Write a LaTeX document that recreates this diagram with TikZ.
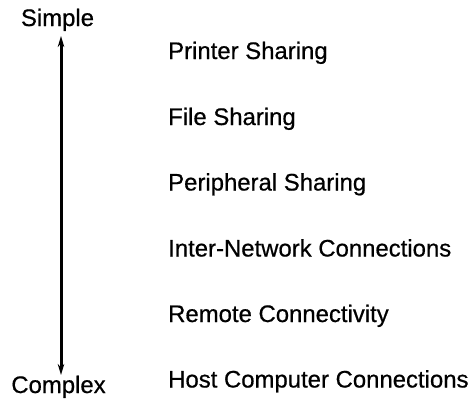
\documentclass[tikz,border=0pt]{standalone}
\usepackage{fontspec}
\setmainfont{Liberation Sans}[FakeBold=0.6]
\usetikzlibrary{arrows.meta}
\begin{document}
\begin{tikzpicture}[x=1bp, y=-1bp,
  lbl/.style={inner sep=0pt, anchor=base west, font=\fontsize{24}{28}\selectfont},
  endlbl/.style={inner sep=0pt, anchor=base, font=\fontsize{24}{28}\selectfont},
  axisarrow/.style={line width=3bp, {Stealth[length=11bp,width=6.5bp]}-{Stealth[length=11bp,width=6.5bp]}}]
  \useasboundingbox (0,0) rectangle (473,409);
  % scale ends
  \node[endlbl] (simple) at (57.5,26) {Simple};
  \node[endlbl] (complex) at (58.5,393) {Complex};
  \coordinate (top) at (61,36);
  \coordinate (bot) at (61,375);
  \draw[axisarrow] (top) -- (bot);
  % levels of networking
  \node[lbl] (l1) at (168,59) {Printer Sharing};
  \node[lbl] (l2) at (168,125) {File Sharing};
  \node[lbl] (l3) at (168,190.5) {Peripheral Sharing};
  \node[lbl] (l4) at (168,256.5) {Inter-Network Connections};
  \node[lbl] (l5) at (168,322) {Remote Connectivity};
  \node[lbl] (l6) at (168,387.5) {Host Computer Connections};
\end{tikzpicture}
\end{document}
